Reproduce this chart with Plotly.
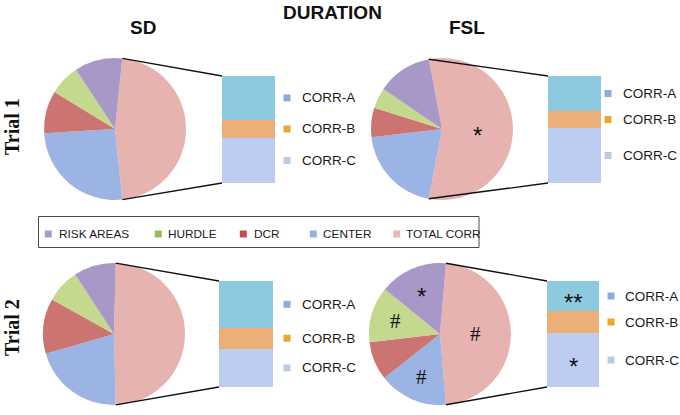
import math
import plotly.graph_objects as go

# ---------------- data ----------------
pie_labels = ["RISK AREAS", "HURDLE", "DCR", "CENTER", "TOTAL CORR"]
sd_trial1 = [10.9, 7.0, 9.7, 25.7, 46.7]
fsl_trial1 = [12.5, 4.7, 6.7, 20.2, 56.0]
sd_trial2 = [9.6, 7.7, 12.6, 20.9, 49.3]
fsl_trial2 = [15.5, 12.7, 8.8, 15.7, 47.3]

corr_labels = ["CORR-A", "CORR-B", "CORR-C"]
sd_trial1_corr = [41.0, 17.0, 42.0]
fsl_trial1_corr = [32.7, 15.9, 51.4]
sd_trial2_corr = [44.0, 20.0, 36.0]
fsl_trial2_corr = [28.3, 20.8, 50.9]

# significance marks
fsl_trial1_marks = ["", "", "", "", "*"]
fsl_trial2_marks = ["*", "#", "", "#", "#"]
no_marks = ["", "", "", "", ""]
fsl_trial2_corr_marks = ["**", "", "*"]
no_corr_marks = ["", "", ""]

column_titles = ["SD", "FSL"]
row_titles = ["Trial 1", "Trial 2"]
main_title = "DURATION"

# ---------------- style ----------------
W, H = 680, 415
R = 71
pie_colors = ["#a798c8", "#c4d98e", "#cc7471", "#9cb4e3", "#e6b3b1"]
legend_colors = ["#a99cc9", "#9bbb59", "#c0504d", "#95b3e0", "#e6b9b8"]
bar_colors = ["#8dcae0", "#ecaf78", "#bccdf1"]
bar_legend_colors = ["#8eaadc", "#e9a730", "#bccbe0"]

geo = [
    dict(cx=115, cy=129, bx0=222, bx1=275, by0=76, by1=183, mk=12, tx=25),
    dict(cx=442, cy=129, bx0=548, bx1=601, by0=76, by1=183, mk=7, tx=20),
    dict(cx=114, cy=334, bx0=219, bx1=273, by0=281, by1=387, mk=14, tx=27),
    dict(cx=440, cy=334, bx0=547, bx1=599, by0=281, by1=387, mk=12, tx=24),
]
pies = [sd_trial1, fsl_trial1, sd_trial2, fsl_trial2]
pie_marks = [no_marks, fsl_trial1_marks, no_marks, fsl_trial2_marks]
corrs = [sd_trial1_corr, fsl_trial1_corr, sd_trial2_corr, fsl_trial2_corr]
corr_marks = [no_corr_marks, no_corr_marks, no_corr_marks, fsl_trial2_corr_marks]


def fx(x):
    return x / W


def fy(y):
    return 1 - y / H


fig = go.Figure()
shapes = []
annotations = []

for i, (g, vals, marks, corr, cmarks) in enumerate(zip(geo, pies, pie_marks, corrs, corr_marks)):
    total = sum(vals)
    frac_total = vals[-1] / total
    rot = 90 - 360 * frac_total / 2
    # clockwise from TOTAL CORR so it is centred at 3 o'clock
    order = list(range(len(vals)))[::-1]
    fig.add_trace(go.Pie(
        labels=[pie_labels[k] for k in order],
        values=[vals[k] for k in order],
        marker=dict(colors=[pie_colors[k] for k in order], line=dict(width=0)),
        sort=False, direction="clockwise", rotation=rot,
        textinfo="none", hoverinfo="label+value", showlegend=False,
        domain=dict(x=[fx(g["cx"] - R), fx(g["cx"] + R)],
                    y=[fy(g["cy"] + R), fy(g["cy"] - R)]),
    ))
    # connectors from pie to bar
    a0 = math.radians(rot)
    a1 = math.radians(rot + 360 * frac_total)
    for a, by in ((a0, g["by0"]), (a1, g["by1"])):
        px = g["cx"] + R * math.sin(a)
        py = g["cy"] - R * math.cos(a)
        shapes.append(dict(type="line", xref="paper", yref="paper",
                           x0=fx(px), y0=fy(py), x1=fx(g["bx0"]), y1=fy(by),
                           line=dict(color="#111111", width=1.3)))
    # slice marks
    start = rot
    for k in order:
        span = 360 * vals[k] / total
        mid = math.radians(start + span / 2)
        start += span
        m = marks[k]
        if not m:
            continue
        rf = 0.5 if k == len(vals) - 1 else 0.66
        mx = g["cx"] + rf * R * math.sin(mid)
        my = g["cy"] - rf * R * math.cos(mid)
        if m == "#":
            font = dict(family="Liberation Serif, Times New Roman, serif", size=21, color="#111")
            ys = 0
        else:
            font = dict(family="Liberation Sans, Arial, sans-serif", size=24, color="#111")
            ys = -6
        annotations.append(dict(x=fx(mx), y=fy(my), xref="paper", yref="paper",
                                text=m, showarrow=False, font=font, yshift=ys,
                                xanchor="center", yanchor="middle"))

    # stacked bar in its own axes
    n = i + 1
    xa = "x" if n == 1 else f"x{n}"
    ya = "y" if n == 1 else f"y{n}"
    ctot = sum(corr)
    for k in [2, 1, 0]:
        fig.add_trace(go.Bar(x=[0], y=[corr[k]], width=1, name=corr_labels[k],
                             marker=dict(color=bar_colors[k], line=dict(width=0)),
                             xaxis=xa, yaxis=ya, showlegend=False))
    mids = [ctot - corr[0] / 2, corr[2] + corr[1] / 2, corr[2] / 2]
    xkey = "xaxis" if n == 1 else f"xaxis{n}"
    ykey = "yaxis" if n == 1 else f"yaxis{n}"
    fig.update_layout(**{
        xkey: dict(domain=[fx(g["bx0"]), fx(g["bx1"])], range=[-0.5, 0.5], visible=False,
                   anchor=ya, fixedrange=True),
        ykey: dict(domain=[fy(g["by1"]), fy(g["by0"])], range=[0, ctot], visible=False,
                   anchor=xa, fixedrange=True),
    })
    for k in range(3):
        annotations.append(dict(x=fx(g["bx1"] + g["tx"]), y=mids[k], xref="paper", yref=ya,
                                text=corr_labels[k], showarrow=False, xanchor="left",
                                yanchor="middle",
                                font=dict(family="Liberation Sans, Arial, sans-serif",
                                          size=13.5, color="#1a1a1a")))
        shapes.append(dict(type="rect", xref="paper", yref=ya,
                           x0=fx(g["bx1"] + g["mk"] - 3.5), x1=fx(g["bx1"] + g["mk"] + 3.5),
                           ysizemode="pixel", yanchor=mids[k], y0=-3.5, y1=3.5,
                           fillcolor=bar_legend_colors[k], line=dict(width=0)))
        if cmarks[k]:
            annotations.append(dict(x=0, y=mids[k], xref=xa, yref=ya, text=cmarks[k],
                                    showarrow=False, xanchor="center", yanchor="middle",
                                    yshift=-6,
                                    font=dict(family="Liberation Sans, Arial, sans-serif",
                                              size=24, color="#111")))

# titles
annotations.append(dict(x=fx(332), y=fy(12), xref="paper", yref="paper", text="<b>" + main_title + "</b>",
                        showarrow=False, xanchor="center", yanchor="middle",
                        font=dict(family="Liberation Sans, Arial, sans-serif", size=19, color="#111")))
for t, x in zip(column_titles, [143, 467]):
    annotations.append(dict(x=fx(x), y=fy(27.5), xref="paper", yref="paper", text="<b>" + t + "</b>",
                            showarrow=False, xanchor="center", yanchor="middle",
                            font=dict(family="Liberation Sans, Arial, sans-serif", size=19, color="#111")))
for t, y in zip(row_titles, [127, 328]):
    annotations.append(dict(x=fx(12), y=fy(y), xref="paper", yref="paper", text="<b>" + t + "</b>",
                            showarrow=False, textangle=-90, xanchor="center", yanchor="middle",
                            font=dict(family="Liberation Serif, Times New Roman, serif", size=20, color="#111")))

# legend box
shapes.append(dict(type="rect", xref="paper", yref="paper", x0=fx(38.5), x1=fx(479),
                   y0=fy(247.5), y1=fy(216.5), line=dict(color="#4a4a4a", width=1),
                   fillcolor="rgba(0,0,0,0)"))
leg_marker_x = [48.3, 158.3, 243.3, 313.3, 396.7]
leg_text_x = [57.3, 166, 251.7, 321, 404]
for k, lab in enumerate(pie_labels):
    shapes.append(dict(type="rect", xref="paper", yref="paper",
                       x0=fx(leg_marker_x[k] - 3.5), x1=fx(leg_marker_x[k] + 3.5),
                       y0=fy(234 + 3.5), y1=fy(234 - 3.5),
                       fillcolor=legend_colors[k], line=dict(width=0)))
    annotations.append(dict(x=fx(leg_text_x[k]), y=fy(234), xref="paper", yref="paper", text=lab,
                            showarrow=False, xanchor="left", yanchor="middle",
                            font=dict(family="Liberation Sans, Arial, sans-serif",
                                      size=11.8, color="#1a1a1a")))

fig.update_layout(
    width=W, height=H, margin=dict(l=0, r=0, t=0, b=0),
    paper_bgcolor="white", plot_bgcolor="rgba(0,0,0,0)",
    barmode="stack", bargap=0, showlegend=False,
    shapes=shapes, annotations=annotations,
)

fig.write_html("out.html", config={"displayModeBar": False},
               post_script="document.body.style.margin='0px';")
